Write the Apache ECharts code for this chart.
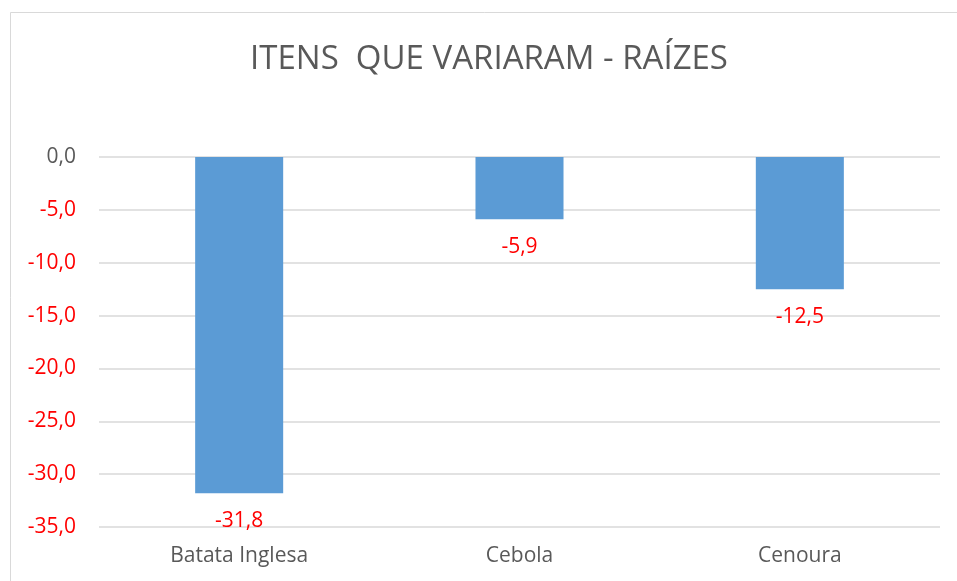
<!DOCTYPE html>
<html><head><meta charset="utf-8">
<script src="https://cdn.jsdelivr.net/npm/echarts@6/dist/echarts.min.js"></script>
<style>html,body{margin:0;padding:0;background:#fff}#c{width:957px;height:581px}</style>
</head><body><div id="c"></div>
<script>
const titleText = 'ITENS  QUE VARIARAM - RAÍZES';
const categories = ['Batata Inglesa', 'Cebola', 'Cenoura'];
const values = [-31.8, -5.9, -12.5];
const yMin = -35, yMax = 0, yStep = 5;

const fmt = v => v.toFixed(1).replace('.', ',');
const chart = echarts.init(document.getElementById('c'), null, {renderer: 'canvas'});
chart.setOption({
  animation: false,
  backgroundColor: '#fff',
  textStyle: {fontFamily: 'Open Sans'},
  graphic: [{
    type: 'rect', shape: {x: 10.5, y: 12.5, width: 1000, height: 1000},
    style: {fill: 'none', stroke: '#d9d9d9', lineWidth: 1}, silent: true, z: -1
  }],
  title: {
    text: titleText, left: 484, top: 38, textAlign: 'center',
    textStyle: {fontFamily: 'Open Sans', fontSize: 33, fontWeight: 'normal', color: '#595959'}
  },
  grid: {left: 99, right: 17, top: 157, bottom: 54, containLabel: false},
  xAxis: {
    type: 'category', data: categories, position: 'bottom',
    axisLine: {show: false}, axisTick: {show: false},
    axisLabel: {color: '#595959', fontSize: 21, margin: 19, fontFamily: 'Open Sans'}
  },
  yAxis: {
    type: 'value', min: yMin, max: yMax, interval: yStep,
    axisLine: {show: false}, axisTick: {show: false},
    splitLine: {lineStyle: {color: '#d9d9d9', width: 1.5}},
    axisLabel: {
      fontSize: 21, margin: 23, fontFamily: 'Open Sans',
      formatter: v => fmt(v),
      color: v => (Number(v) < 0 ? '#ff0000' : '#595959')
    }
  },
  series: [{
    type: 'bar', data: values, barWidth: '31.4%',
    itemStyle: {color: '#5b9bd5'},
    label: {
      show: true, position: 'bottom', distance: 17,
      color: '#ff0000', fontSize: 21, fontFamily: 'Open Sans',
      formatter: p => fmt(p.value)
    }
  }]
});
</script></body></html>
